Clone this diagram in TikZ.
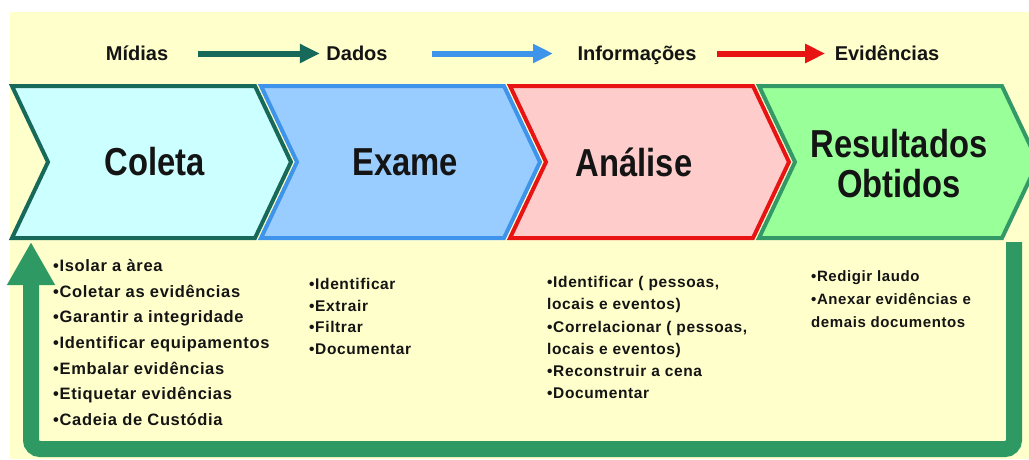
\documentclass[tikz,border=0pt]{standalone}
\usepackage{fontspec}
\setmainfont{Liberation Sans}
\newfontfamily\titlefont[FakeStretch=0.84]{Liberation Sans}
\newfontfamily\listfont[LetterSpace=4]{Liberation Sans}
\usetikzlibrary{arrows.meta}

\definecolor{cream}{HTML}{FFFFCC}
\definecolor{coletafill}{HTML}{CCFFFF}
\definecolor{coletarim}{HTML}{17695A}
\definecolor{examefill}{HTML}{99CCFF}
\definecolor{examerim}{HTML}{3D94EA}
\definecolor{analisefill}{HTML}{FFCCCC}
\definecolor{analiserim}{HTML}{E81414}
\definecolor{resultfill}{HTML}{99FF99}
\definecolor{resultrim}{HTML}{339966}
\definecolor{loopgreen}{HTML}{2E9962}
\definecolor{ink}{HTML}{141414}

\tikzset{
  stage/.style={line width=4pt, line join=miter},
  stagetitle/.style={font=\titlefont\bfseries\fontsize{39}{40}\selectfont, align=center, text=ink},
  stepword/.style={font=\bfseries\fontsize{20}{24}\selectfont, text=ink,
    text height=13pt, text depth=0pt, anchor=base},
  flow/.style={line width=6pt, -{Triangle[length=20pt,width=18pt]}},
  tasklist/.style={font=\listfont\bfseries\fontsize{15}{22}\selectfont, align=left,
    anchor=north west, inner sep=0pt, text=ink},
}

\begin{document}
\begin{tikzpicture}[x=1pt,y=-1pt]
\useasboundingbox (0,0) rectangle (1029,459);
\clip (0,0) rectangle (1029,459);
\fill[white] (0,0) rectangle (1029,459);
\fill[cream] (10,12) rectangle (1029,459);

% the four stages
\foreach \x/\body/\rim in {12/coletafill/coletarim, 261/examefill/examerim,
    510/analisefill/analiserim, 759/resultfill/resultrim}
  \draw[stage, fill=\body, draw=\rim] (\x,86) -- ++(243,0) -- ++(36,76)
    -- ++(-36,76) -- ++(-243,0) -- ++(36,-76) -- cycle;

\node[stagetitle] (coleta) at (155,162) {Coleta};
\node[stagetitle] (exame) at (405,162) {Exame};
\node[stagetitle] (analise) at (634,162) {Análise};
\node[stagetitle] (resultados) at (899,164) {Resultados\\Obtidos};

% what flows from stage to stage
\node[stepword] (midias) at (137,60) {Mídias};
\node[stepword] (dados) at (357,60) {Dados};
\node[stepword] (informacoes) at (637,60) {Informações};
\node[stepword] (evidencias) at (887,60) {Evidências};

\draw[flow, coletarim, shorten <=26pt, shorten >=3pt] (midias) -- (dados);
\draw[flow, examerim, shorten <=41pt, shorten >=21pt] (dados) -- (informacoes);
\draw[flow, analiserim, shorten <=17pt, shorten >=6pt] (informacoes) -- (evidencias);

% return loop
\coordinate (loopstart) at (1014,242);
\coordinate (looptip) at (31,242);
\draw[loopgreen, line width=16pt, rounded corners=9pt, -{Triangle[length=43pt,width=45pt]}]
  (loopstart) |- (31,449) -- (looptip);

% tasks of each stage
\node[tasklist, font=\listfont\bfseries\fontsize{16.5}{25.7}\selectfont] (coletalist)
  at (53,259) {•Isolar a àrea\\•Coletar as evidências\\
  •Garantir a integridade\\•Identificar equipamentos\\•Embalar evidências\\
  •Etiquetar evidências\\•Cadeia de Custódia};
\node[tasklist, font=\listfont\bfseries\fontsize{15.5}{21.7}\selectfont] (examelist)
  at (309,278) {•Identificar\\•Extrair\\•Filtrar\\•Documentar};
\node[tasklist, font=\listfont\bfseries\fontsize{15.5}{22.3}\selectfont] (analiselist)
  at (547,276) {•Identificar ( pessoas,\\locais e eventos)\\•Correlacionar ( pessoas,\\
  locais e eventos)\\•Reconstruir a cena\\•Documentar};
\node[tasklist, font=\listfont\bfseries\fontsize{15}{23}\selectfont] (resultlist)
  at (811,270) {•Redigir laudo\\•Anexar evidências e\\demais documentos};
\end{tikzpicture}
\end{document}
